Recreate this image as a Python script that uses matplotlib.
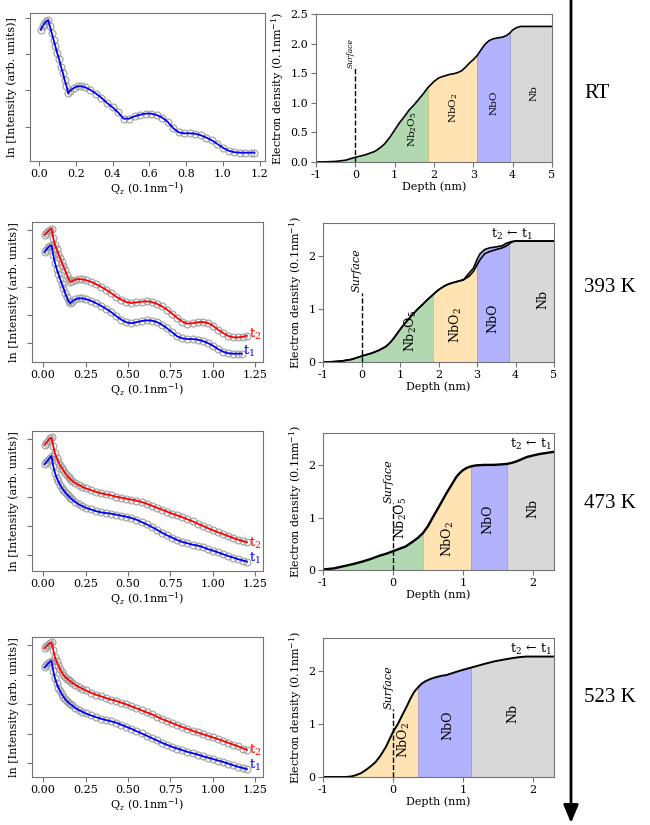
import matplotlib
matplotlib.use('Agg')
import matplotlib.pyplot as plt
from matplotlib.patches import Rectangle, FancyArrowPatch

plt.rcParams['font.family'] = 'serif'
plt.rcParams['font.serif'] = ['DejaVu Serif']
plt.rcParams['mathtext.fontset'] = 'dejavuserif'
plt.rcParams['axes.unicode_minus'] = False
plt.rcParams['font.size'] = 8

# ---- reflectivity curves, ln I vs Qz ----
q_rt = [0.01, 0.02, 0.03, 0.04, 0.05, 0.06, 0.07, 0.08, 0.09, 0.10, 0.11, 0.12,
        0.13, 0.14, 0.15, 0.16, 0.17, 0.19, 0.21, 0.23, 0.25, 0.28, 0.31, 0.34,
        0.37, 0.40, 0.43, 0.46, 0.49, 0.52, 0.55, 0.58, 0.61, 0.64, 0.67, 0.70,
        0.73, 0.76, 0.79, 0.82, 0.85, 0.88, 0.91, 0.94, 0.97, 1.00, 1.03, 1.06,
        1.09, 1.12, 1.15, 1.17]
lnI_rt = [-0.65, -0.46, -0.31, -0.18, -0.11, -0.46, -0.83, -1.20, -1.57, -1.94,
          -2.27, -2.68, -3.01, -3.42, -3.75, -4.16, -4.01, -3.86, -3.77, -3.77,
          -3.82, -3.97, -4.17, -4.41, -4.69, -4.93, -5.21, -5.56, -5.56, -5.43,
          -5.34, -5.28, -5.28, -5.36, -5.50, -5.74, -6.09, -6.32, -6.37, -6.37,
          -6.39, -6.48, -6.61, -6.76, -6.96, -7.17, -7.33, -7.41, -7.44, -7.44,
          -7.44, -7.44]

q_hot = [0.01, 0.02, 0.03, 0.04, 0.05, 0.06, 0.07, 0.08, 0.09, 0.10, 0.11, 0.12,
         0.13, 0.14, 0.15, 0.16, 0.17, 0.19, 0.21, 0.23, 0.25, 0.28, 0.31, 0.34,
         0.37, 0.40, 0.43, 0.46, 0.49, 0.52, 0.55, 0.58, 0.61, 0.64, 0.67, 0.70,
         0.73, 0.76, 0.79, 0.82, 0.85, 0.88, 0.91, 0.94, 0.97, 1.00, 1.03, 1.06,
         1.09, 1.12, 1.15, 1.18, 1.20]
q_393_t1 = q_hot[:51] + [1.17]

lnI_393_t2 = [-0.31, -0.19, -0.07, 0.05, 0.12, -0.54, -1.02, -1.33, -1.66, -1.96,
              -2.27, -2.56, -2.84, -3.15, -3.43, -3.64, -3.62, -3.50, -3.46, -3.48,
              -3.53, -3.64, -3.81, -4.00, -4.21, -4.45, -4.71, -4.92, -5.09, -5.16,
              -5.11, -5.07, -5.04, -5.09, -5.21, -5.40, -5.63, -5.92, -6.22, -6.48,
              -6.63, -6.60, -6.53, -6.51, -6.58, -6.77, -7.05, -7.29, -7.50, -7.60,
              -7.60, -7.55, -7.48]
lnI_393_t1 = [-1.54, -1.37, -1.21, -1.11, -1.07, -1.73, -2.32, -2.72, -3.08, -3.43,
              -3.79, -4.09, -4.45, -4.76, -5.04, -5.18, -5.07, -4.90, -4.83, -4.83,
              -4.88, -4.99, -5.16, -5.35, -5.56, -5.80, -6.08, -6.34, -6.53, -6.60,
              -6.53, -6.44, -6.39, -6.41, -6.51, -6.70, -6.96, -7.24, -7.53, -7.67,
              -7.72, -7.72, -7.76, -7.86, -8.00, -8.19, -8.43, -8.62, -8.73, -8.76,
              -8.76, -8.76]

lnI_473_t2 = [-0.37, -0.23, -0.09, 0.07, 0.14, -0.46, -0.97, -1.27, -1.54, -1.78,
              -1.96, -2.14, -2.33, -2.49, -2.63, -2.74, -2.86, -3.02, -3.16, -3.27,
              -3.39, -3.50, -3.62, -3.73, -3.80, -3.87, -3.97, -4.03, -4.10, -4.17,
              -4.24, -4.33, -4.45, -4.59, -4.73, -4.86, -5.00, -5.14, -5.26, -5.39,
              -5.53, -5.67, -5.83, -5.98, -6.14, -6.29, -6.43, -6.55, -6.69, -6.82,
              -6.94, -7.05, -7.12]
lnI_473_t1 = [-1.71, -1.57, -1.43, -1.27, -1.15, -1.84, -2.31, -2.65, -2.90, -3.14,
              -3.34, -3.50, -3.67, -3.80, -3.92, -4.03, -4.15, -4.33, -4.50, -4.61,
              -4.73, -4.84, -4.96, -5.05, -5.10, -5.14, -5.21, -5.28, -5.35, -5.44,
              -5.56, -5.72, -5.88, -6.06, -6.25, -6.46, -6.64, -6.80, -6.96, -7.10,
              -7.19, -7.29, -7.35, -7.45, -7.59, -7.70, -7.82, -7.95, -8.07, -8.18,
              -8.30, -8.39, -8.46]

lnI_523_t2 = [-0.18, -0.07, 0.05, 0.14, 0.21, -0.30, -0.80, -1.09, -1.37, -1.62,
              -1.82, -2.01, -2.14, -2.26, -2.35, -2.44, -2.53, -2.69, -2.83, -2.94,
              -3.06, -3.21, -3.35, -3.46, -3.58, -3.69, -3.78, -3.90, -4.01, -4.15,
              -4.28, -4.42, -4.56, -4.69, -4.85, -5.01, -5.15, -5.29, -5.42, -5.56,
              -5.68, -5.81, -5.93, -6.04, -6.15, -6.27, -6.38, -6.50, -6.63, -6.75,
              -6.88, -7.02, -7.11]
lnI_523_t1 = [-1.50, -1.37, -1.23, -1.12, -1.05, -1.73, -2.23, -2.58, -2.87, -3.10,
              -3.31, -3.49, -3.65, -3.78, -3.90, -3.99, -4.08, -4.26, -4.40, -4.51,
              -4.63, -4.76, -4.88, -4.99, -5.08, -5.17, -5.26, -5.40, -5.54, -5.68,
              -5.84, -5.99, -6.15, -6.31, -6.47, -6.63, -6.77, -6.91, -7.02, -7.13,
              -7.25, -7.34, -7.43, -7.54, -7.64, -7.73, -7.84, -7.93, -8.05, -8.16,
              -8.27, -8.36, -8.43]

# ---- electron density profiles ----
z_rt = [-1.0, -0.75, -0.5, -0.25, 0.0, 0.25, 0.5, 0.65, 0.75, 0.88, 1.0, 1.12,
        1.25, 1.37, 1.5, 1.6, 1.7, 1.85, 2.0, 2.12, 2.25, 2.4, 2.5, 2.6, 2.7, 2.8,
        2.9, 3.0, 3.1, 3.2, 3.3, 3.4, 3.5, 3.65, 3.75, 3.85, 3.93, 4.0, 4.1, 4.2,
        4.4, 5.0]
rho_rt = [0.0, 0.003, 0.01, 0.03, 0.08, 0.12, 0.18, 0.25, 0.31, 0.42, 0.54, 0.66,
          0.77, 0.88, 0.97, 1.05, 1.13, 1.26, 1.36, 1.42, 1.45, 1.48, 1.49, 1.51,
          1.54, 1.60, 1.67, 1.73, 1.80, 1.90, 1.99, 2.05, 2.08, 2.10, 2.11, 2.14,
          2.18, 2.23, 2.27, 2.29, 2.29, 2.29]

z_393 = [-1.0, -0.75, -0.5, -0.25, 0.0, 0.28, 0.45, 0.63, 0.75, 0.84, 0.95, 1.06,
         1.2, 1.32, 1.45, 1.58, 1.72, 1.86, 1.95, 2.04, 2.15, 2.23, 2.35, 2.45,
         2.55, 2.65, 2.72, 2.8, 2.91, 3.0, 3.08, 3.2, 3.32, 3.5, 3.65, 3.77, 3.9,
         4.0, 5.0]
rho_393_t1 = [0.0, 0.005, 0.02, 0.05, 0.11, 0.17, 0.22, 0.29, 0.37, 0.45, 0.56,
              0.67, 0.79, 0.89, 0.99, 1.08, 1.18, 1.27, 1.33, 1.38, 1.43, 1.46,
              1.49, 1.51, 1.53, 1.55, 1.58, 1.62, 1.71, 1.83, 1.93, 2.04, 2.08,
              2.12, 2.15, 2.19, 2.26, 2.28, 2.28]
rho_393_t2 = [0.0, 0.005, 0.02, 0.05, 0.11, 0.17, 0.22, 0.29, 0.37, 0.45, 0.56,
              0.67, 0.79, 0.89, 0.99, 1.08, 1.18, 1.27, 1.33, 1.38, 1.43, 1.46,
              1.49, 1.51, 1.53, 1.55, 1.61, 1.68, 1.77, 1.93, 2.04, 2.12, 2.15,
              2.17, 2.19, 2.24, 2.27, 2.28, 2.28]

z_473 = [-1.0, -0.85, -0.68, -0.55, -0.44, -0.32, -0.2, -0.1, 0.0, 0.1, 0.18,
         0.28, 0.36, 0.43, 0.5, 0.57, 0.66, 0.76, 0.86, 0.9, 0.95, 1.0, 1.05, 1.11,
         1.18, 1.3, 1.43, 1.55, 1.63, 1.7, 1.77, 1.84, 1.91, 2.0, 2.1, 2.2, 2.3]
rho_473 = [0.01, 0.03, 0.08, 0.12, 0.16, 0.21, 0.27, 0.31, 0.36, 0.41, 0.45, 0.54,
           0.62, 0.71, 0.84, 1.01, 1.22, 1.46, 1.68, 1.77, 1.85, 1.91, 1.95, 1.98,
           2.00, 2.01, 2.01, 2.02, 2.03, 2.05, 2.08, 2.12, 2.16, 2.19, 2.22, 2.24,
           2.26]

z_523 = [-1.0, -0.68, -0.6, -0.54, -0.46, -0.39, -0.32, -0.25, -0.18, -0.1, 0.0,
         0.07, 0.13, 0.2, 0.25, 0.3, 0.35, 0.41, 0.47, 0.54, 0.61, 0.7, 0.76, 0.83,
         0.9, 1.0, 1.11, 1.22, 1.33, 1.45, 1.57, 1.7, 1.81, 1.9, 2.0, 2.3]
rho_523 = [0.0, 0.0, 0.01, 0.03, 0.07, 0.13, 0.20, 0.28, 0.40, 0.57, 0.85, 1.00,
           1.16, 1.34, 1.48, 1.60, 1.68, 1.76, 1.81, 1.85, 1.88, 1.91, 1.92, 1.95,
           1.98, 2.02, 2.06, 2.10, 2.14, 2.18, 2.21, 2.24, 2.26, 2.27, 2.27, 2.27]

# oxide layers: names, boundaries, label positions (depth, density)
layers_rt = ['Nb2O5', 'NbO2', 'NbO', 'Nb']
bounds_rt = [-1, 1.85, 3.1, 3.93, 5]
lab_rt = [(1.47, 0.55), (2.5, 0.91), (3.52, 1.0), (4.55, 1.16)]

layers_393 = ['Nb2O5', 'NbO2', 'NbO', 'Nb']
bounds_393 = [-1, 1.86, 3.0, 3.84, 5]
lab_393 = [(1.28, 0.58), (2.45, 0.70), (3.41, 0.83), (4.71, 1.17)]

layers_473 = ['Nb2O5', 'NbO2', 'NbO', 'Nb']
bounds_473 = [-1, 0.43, 1.11, 1.63, 2.3]
lab_473 = [(0.11, 1.0), (0.78, 0.6), (1.36, 0.98), (2.0, 1.17)]

layers_523 = ['NbO2', 'NbO', 'Nb']
bounds_523 = [-1, 0.35, 1.12, 2.3]
lab_523 = [(0.16, 0.69), (0.78, 0.97), (1.71, 1.19)]

temps = ['RT', '393 K', '473 K', '523 K']

layer_style = {
    'Nb2O5': ('green', r'Nb$_2$O$_5$'),
    'NbO2': ('orange', r'NbO$_2$'),
    'NbO': ('blue', 'NbO'),
    'Nb': ('gray', 'Nb'),
}

W, H = 650.0, 825.0
fig = plt.figure(figsize=(6.5, 8.25), dpi=100)


def box(x0, y0, x1, y1):
    # pixel box -> figure fraction rect
    return [x0 / W, 1 - y1 / H, (x1 - x0) / W, (y1 - y0) / H]


def style_axes(ax):
    for sp in ax.spines.values():
        sp.set_color('0.45')
        sp.set_linewidth(0.8)
    ax.tick_params(direction='out', length=3.5, width=0.8, color='0.45',
                   labelsize=8, pad=2)


def refl_panel(ax, curves, xlim, ylim, xticks, yticks):
    for q, y, col, lab, lab_y in curves:
        ax.plot(q, y, 'o', mfc='none', mec='0.62', ms=5, mew=0.8, zorder=1)
        ax.plot(q, y, '-', color=col, lw=1.3, zorder=2)
        if lab:
            ax.text(q[-1] + 0.01, lab_y, lab, color=col, fontsize=9.5,
                    va='center', ha='left')
    ax.set_xlim(*xlim)
    ax.set_ylim(*ylim)
    ax.set_xticks(xticks)
    ax.set_yticks(yticks)
    ax.set_yticklabels([])
    ax.set_xlabel(r'Q$_z$ (0.1nm$^{-1}$)', labelpad=1)
    ax.set_ylabel('ln [Intensity (arb. units)]', labelpad=4)
    style_axes(ax)


def density_panel(ax, z, rhos, layers, bounds, labpos, xlim, ylim, xticks,
                  yticks, surf_top, label_size, surf_size, line_w=1.2,
                  times_xy=None):
    top = rhos[-1]
    for i, name in enumerate(layers):
        colour, text = layer_style[name]
        poly = ax.fill_between(z, top, color=colour, alpha=0.3, lw=0)
        clip = Rectangle((bounds[i], 0), bounds[i + 1] - bounds[i], 10,
                         transform=ax.transData)
        poly.set_clip_path(clip)
        ax.text(labpos[i][0], labpos[i][1], text, rotation=90, ha='center',
                va='center', fontsize=label_size)
    for r in rhos:
        ax.plot(z, r, color='black', lw=line_w)
    ax.plot([0, 0], [0, surf_top], color='black', ls='--', lw=1.0)
    ax.text(-0.02 * (xlim[1] - xlim[0]), surf_top, 'Surface', rotation=90,
            ha='center', va='bottom', fontsize=surf_size, style='italic')
    if times_xy is not None:
        ax.text(times_xy[0], times_xy[1], r't$_2\,\leftarrow\,$t$_1$',
                transform=ax.transAxes, ha='right', va='center', fontsize=9)
    ax.set_xlim(*xlim)
    ax.set_ylim(*ylim)
    ax.set_xticks(xticks)
    ax.set_yticks(yticks)
    ax.set_xlabel('Depth (nm)', labelpad=1)
    ax.set_ylabel(r'Electron density (0.1nm$^{-1}$)', labelpad=3)
    style_axes(ax)


# row 1: room temperature
ax = fig.add_axes(box(30, 13, 265, 161))
refl_panel(ax, [(q_rt, lnI_rt, 'blue', None, None)], (-0.048, 1.228),
           (-7.90, 0.28), [0.0, 0.2, 0.4, 0.6, 0.8, 1.0, 1.2], [0, -2, -4, -6])
ax.xaxis.set_major_formatter(matplotlib.ticker.FormatStrFormatter('%.1f'))

ax = fig.add_axes(box(316, 14, 552, 162))
density_panel(ax, z_rt, [rho_rt], layers_rt, bounds_rt, lab_rt, (-1, 5),
              (0, 2.5), [-1, 0, 1, 2, 3, 4, 5], [0, 0.5, 1.0, 1.5, 2.0, 2.5],
              1.58, 7.5, 5.5)
ax.yaxis.set_major_formatter(matplotlib.ticker.FormatStrFormatter('%.1f'))

# rows 2-4: annealed, two times each
hot_rows = [
    (q_hot, lnI_393_t2, q_393_t1, lnI_393_t1, (-9.35, 0.59), -7.41, -8.59,
     (222, 362), (223, 362), z_393, [rho_393_t1, rho_393_t2], layers_393,
     bounds_393, lab_393, (-1, 5), [-1, 0, 1, 2, 3, 4, 5], 1.31, 1.2,
     (0.91, 0.92)),
    (q_hot, lnI_473_t2, q_hot, lnI_473_t1, (-9.11, 0.58), -7.19, -8.23,
     (431, 571), (433, 570), z_473, [rho_473], layers_473,
     bounds_473, lab_473, (-1, 2.3), [-1, 0, 1, 2], 1.28, 1.7, (0.99, 0.92)),
    (q_hot, lnI_523_t2, q_hot, lnI_523_t1, (-8.96, 0.57), -7.13, -8.20,
     (637, 777), (638, 777), z_523, [rho_523], layers_523,
     bounds_523, lab_523, (-1, 2.3), [-1, 0, 1, 2], 1.29, 1.4, (0.99, 0.92)),
]

for (qa, ya, qb, yb, ylim, y2, y1, ly, ry, z, rhos, lay, bnd, lab, zlim, zt,
     stop, lw, txy) in hot_rows:
    ax = fig.add_axes(box(32, ly[0], 263, ly[1]))
    refl_panel(ax, [(qa, ya, 'red', r't$_2$', y2), (qb, yb, 'blue', r't$_1$', y1)],
               (-0.065, 1.295), ylim, [0.0, 0.25, 0.5, 0.75, 1.0, 1.25],
               [0, -2, -4, -6, -8])
    ax.xaxis.set_major_formatter(matplotlib.ticker.FormatStrFormatter('%.2f'))

    ax = fig.add_axes(box(323, ry[0], 554, ry[1]))
    density_panel(ax, z, rhos, lay, bnd, lab, zlim, (0, 2.62), zt, [0, 1, 2],
                  stop, 9, 8, line_w=lw, times_xy=txy)

# temperature sequence arrow down the right side
arrow = FancyArrowPatch((571 / W, 1.0), (571 / W, 2 / H), transform=fig.transFigure,
                        arrowstyle='-|>,head_length=0.6,head_width=0.25',
                        mutation_scale=18, lw=2, color='black',
                        shrinkA=0, shrinkB=0)
fig.add_artist(arrow)
for label, ypix in zip(temps, [93, 288, 503, 697]):
    fig.text(584 / W, 1 - ypix / H, label, fontsize=15, va='center', ha='left',
             family='Liberation Serif')

fig.savefig('out.png', dpi=100)
